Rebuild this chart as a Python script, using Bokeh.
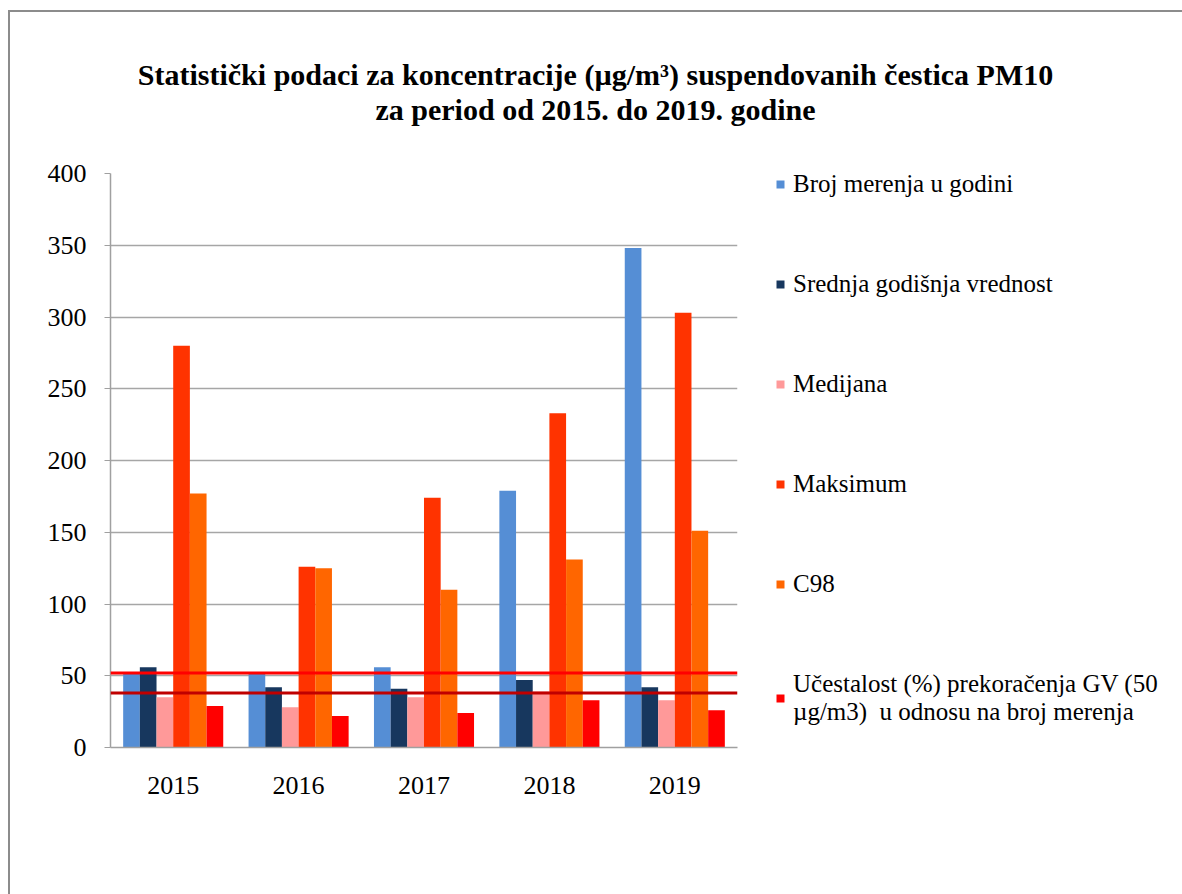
from bokeh.plotting import figure
from bokeh.layouts import column, row
from bokeh.models import (ColumnDataSource, FactorRange, Span, Label, Legend, LegendItem,
                          FixedTicker, Range1d)
from bokeh.transform import dodge
from bokeh.embed import file_html
from bokeh.resources import INLINE

years = ["2015", "2016", "2017", "2018", "2019"]
broj = [52, 52, 56, 179, 348]
srednja = [56, 42, 41, 47, 42]
medijana = [35, 28, 35, 39, 33]
maksimum = [280, 126, 174, 233, 303]
c98 = [177, 125, 110, 131, 151]
ucestalost = [29, 22, 24, 33, 26]
limit_upper = 52
limit_lower = 38

series_names = ["Broj merenja u godini", "Srednja godišnja vrednost", "Medijana",
                "Maksimum", "C98",
                "Učestalost (%) prekoračenja GV (50\nµg/m3)  u odnosu na broj merenja"]
series_keys = ["broj", "srednja", "medijana", "maksimum", "c98", "ucestalost"]
colors = ["#558ED5", "#17375E", "#FF9999", "#FF3300", "#FF6600", "#FF0000"]
title_line1 = "Statistički podaci za koncentracije (µg/m³) suspendovanih čestica PM10"
title_line2 = "za period od 2015. do 2019. godine"

src = ColumnDataSource(dict(years=years, broj=broj, srednja=srednja, medijana=medijana,
                            maksimum=maksimum, c98=c98, ucestalost=ucestalost))

FONT = "Liberation Serif"


def blank(width, height):
    f = figure(width=width, height=height, output_backend="svg", toolbar_location=None,
               x_axis_location=None, y_axis_location=None,
               x_range=Range1d(0, width), y_range=Range1d(0, height),
               min_border_left=0, min_border_right=0, min_border_top=0, min_border_bottom=0)
    f.grid.grid_line_color = None
    f.outline_line_color = None
    return f


# ---- title strip ----
tfig = blank(1172, 140)
tfig.add_layout(Label(x=585, y=78, x_units="screen", y_units="screen", text=title_line1,
                      text_align="center", text_baseline="alphabetic", text_color="black",
                      text_font=FONT, text_font_style="bold", text_font_size="30px"))
tfig.add_layout(Label(x=585, y=43, x_units="screen", y_units="screen", text=title_line2,
                      text_align="center", text_baseline="alphabetic", text_color="black",
                      text_font=FONT, text_font_style="bold", text_font_size="30px"))

# ---- main chart ----
p = figure(x_range=FactorRange(*years, range_padding=0), y_range=(0, 400),
           width=730, height=742, output_backend="svg", toolbar_location=None,
           min_border_left=100, min_border_right=3, min_border_top=21, min_border_bottom=147)
p.outline_line_color = None

bw = 0.133
offsets = [-2.5 * bw, -1.5 * bw, -0.5 * bw, 0.5 * bw, 1.5 * bw, 2.5 * bw]
for key, col, off in zip(series_keys, colors, offsets):
    p.vbar(x=dodge("years", off, range=p.x_range), top=key, width=bw, source=src,
           fill_color=col, line_color=None)

p.add_layout(Span(location=limit_upper, dimension="width", line_color="#FF0000", line_width=3))
p.add_layout(Span(location=limit_lower, dimension="width", line_color="#C00000", line_width=3))

p.xgrid.grid_line_color = None
p.ygrid.grid_line_color = "#A6A6A6"
p.ygrid.grid_line_width = 1.5
p.yaxis.ticker = FixedTicker(ticks=[0, 50, 100, 150, 200, 250, 300, 350, 400])
for ax in (p.xaxis, p.yaxis):
    ax.axis_line_color = "#A0A0A0"
    ax.axis_line_width = 1.5
    ax.major_tick_line_color = "#A0A0A0"
    ax.minor_tick_line_color = None
    ax.major_label_text_font = FONT
    ax.major_label_text_font_size = "26px"
    ax.major_label_text_color = "black"
p.yaxis.major_tick_in = 0
p.yaxis.major_tick_out = 6
p.yaxis.major_label_standoff = 18
p.xaxis.major_tick_out = 0
p.xaxis.major_tick_in = 0
p.xaxis.major_label_standoff = 29

# ---- legend panel ----
lfig = blank(442, 742)
items = []
for name, col in zip(series_names, colors):
    r = lfig.vbar(x=[0], top=[0], width=0, fill_color=col, line_color=None)
    items.append(LegendItem(label=name, renderers=[r]))
legend = Legend(items=items, location=(35, 21))
legend.label_text_font = FONT
legend.label_text_font_size = "25px"
legend.label_text_color = "black"
legend.label_text_line_height = 1.55
legend.glyph_width = 10
legend.glyph_height = 10
legend.label_standoff = 8
legend.padding = 0
legend.margin = 0
legend.spacing = 72
legend.border_line_alpha = 0
legend.background_fill_alpha = 0
lfig.add_layout(legend, "center")

layout = column(tfig, row(p, lfig, spacing=0), spacing=0)
layout.styles = {"border-top": "2px solid #8c8c8c", "border-left": "2px solid #8c8c8c",
                 "margin-left": "8px", "margin-top": "10px"}

open("out.html", "w").write(file_html(layout, INLINE))
